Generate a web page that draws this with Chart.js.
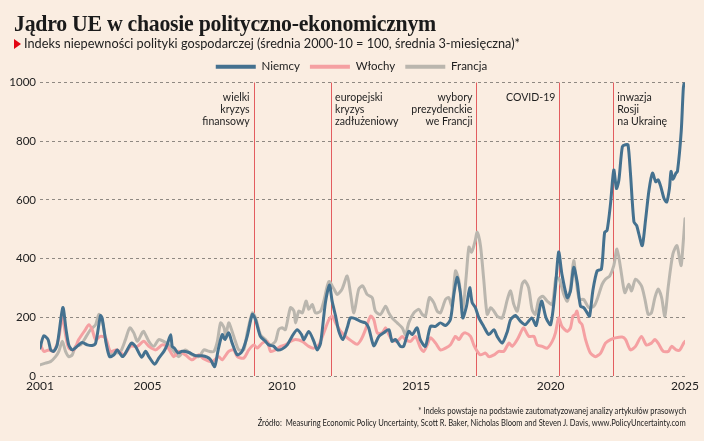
<!DOCTYPE html>
<html><head><meta charset="utf-8">
<script src="https://cdn.jsdelivr.net/npm/chart.js@4.4.1/dist/chart.umd.min.js"></script>
<style>
html,body{margin:0;padding:0;background:#faede1;}
#wrap{position:relative;width:704px;height:441px;overflow:hidden;background:#faede1;}
#c{position:absolute;left:0;top:0;}
.t{position:absolute;white-space:nowrap;color:#1a1a1a;}
#title{left:14px;top:11px;font:bold 24px/24px "Liberation Serif",serif;letter-spacing:-0.3px;transform-origin:0 0;}
#sub{left:24px;top:36px;font:14px/14px Lato,sans-serif;transform-origin:0 0;color:#222;}
#tri{position:absolute;left:14px;top:39px;width:0;height:0;border-left:7px solid #e30613;border-top:5px solid transparent;border-bottom:5px solid transparent;}
#f1{right:18px;top:405px;font:10px/10px Lato,sans-serif;transform-origin:100% 0;color:#222;}
#f2{right:18px;top:417px;font:10px/10px Lato,sans-serif;transform-origin:100% 0;color:#222;}
</style></head>
<body><div id="wrap">
<canvas id="c" width="704" height="441"></canvas>
<div class="t" id="title">Jądro UE w chaosie polityczno-ekonomicznym</div>
<div id="tri"></div>
<div class="t" id="sub">Indeks niepewności polityki gospodarczej (średnia 2000-10 = 100, średnia 3-miesięczna)*</div>
<div class="t" id="f1">* Indeks powstaje na podstawie zautomatyzowanej analizy artykułów prasowych</div>
<div class="t" id="f2">Źródło:&nbsp; Measuring Economic Policy Uncertainty, Scott R. Baker, Nicholas Bloom and Steven J. Davis, www.PolicyUncertainty.com</div>
</div>
<script>
// ---- data ----
const seriesNames = ["Niemcy", "Włochy", "Francja"];
const xTicks = [2001, 2005, 2010, 2015, 2020, 2025];
const yTicks = [0, 200, 400, 600, 800, 1000];

const deX = [2001.00,2001.14,2001.30,2001.40,2001.51,2001.64,2001.85,2001.97,2002.07,2002.20,2002.38,2002.57,2002.76,2002.94,2003.07,2003.25,2003.31,2003.46,2003.59,2003.75,2003.87,2004.08,2004.40,2004.55,2004.78,2004.93,2005.05,2005.27,2005.42,2005.61,2005.73,2005.86,2005.92,2006.00,2006.14,2006.29,2006.54,2006.79,2007.03,2007.22,2007.35,2007.50,2007.63,2007.78,2007.88,2008.02,2008.15,2008.34,2008.52,2008.71,2008.90,2009.02,2009.20,2009.39,2009.51,2009.70,2009.83,2010.01,2010.20,2010.38,2010.57,2010.73,2010.82,2011.00,2011.19,2011.31,2011.44,2011.62,2011.77,2011.87,2012.00,2012.12,2012.27,2012.43,2012.55,2012.74,2012.93,2013.11,2013.23,2013.42,2013.61,2013.79,2013.98,2014.10,2014.23,2014.41,2014.53,2014.72,2014.85,2015.03,2015.15,2015.34,2015.53,2015.72,2015.90,2016.09,2016.27,2016.39,2016.52,2016.64,2016.73,2016.87,2016.99,2017.08,2017.20,2017.33,2017.51,2017.70,2017.89,2018.01,2018.20,2018.39,2018.51,2018.69,2018.88,2019.06,2019.30,2019.46,2019.66,2019.83,2020.00,2020.16,2020.30,2020.42,2020.62,2020.74,2020.86,2020.99,2021.11,2021.23,2021.36,2021.45,2021.57,2021.73,2021.89,2022.01,2022.10,2022.23,2022.35,2022.45,2022.54,2022.67,2022.79,2022.88,2022.97,2023.10,2023.20,2023.28,2023.41,2023.53,2023.66,2023.79,2023.91,2024.00,2024.10,2024.22,2024.32,2024.42,2024.48,2024.55,2024.66,2024.72,2024.86,2024.94,2025.00];
const deY = [95,137,124,89,84,106,233,158,106,89,101,114,106,104,112,206,198,112,66,72,89,66,112,101,64,84,66,40,61,84,106,141,101,95,78,84,80,69,69,64,55,32,89,141,124,147,112,72,84,135,210,192,135,118,106,101,89,92,106,135,158,141,124,152,118,89,112,250,310,255,204,152,124,164,198,195,186,181,164,103,135,147,158,118,124,101,101,152,141,164,124,101,169,169,181,172,192,272,336,284,198,238,301,250,233,198,169,141,158,135,112,152,192,206,186,175,198,172,255,198,175,284,422,347,267,290,370,319,238,233,215,204,290,358,364,490,496,588,702,639,668,782,788,788,691,525,513,485,444,530,633,691,662,668,645,605,593,639,697,670,691,697,834,983,1010];

const itX = [2001.00,2001.14,2001.33,2001.51,2001.70,2001.83,2001.95,2002.07,2002.26,2002.44,2002.69,2002.82,2002.94,2003.07,2003.25,2003.44,2003.62,2003.87,2004.12,2004.37,2004.62,2004.86,2005.05,2005.30,2005.55,2005.73,2005.98,2006.16,2006.41,2006.66,2006.91,2007.10,2007.40,2007.65,2007.78,2008.02,2008.21,2008.34,2008.58,2008.77,2008.96,2009.08,2009.27,2009.45,2009.58,2009.76,2009.95,2010.13,2010.32,2010.51,2010.76,2011.00,2011.19,2011.37,2011.56,2011.75,2011.87,2012.00,2012.19,2012.37,2012.61,2012.80,2012.95,2013.11,2013.30,2013.42,2013.55,2013.73,2013.86,2013.98,2014.10,2014.29,2014.48,2014.60,2014.79,2014.97,2015.16,2015.28,2015.41,2015.53,2015.72,2015.90,2016.09,2016.27,2016.46,2016.59,2016.71,2016.83,2017.02,2017.14,2017.27,2017.39,2017.58,2017.70,2017.89,2018.07,2018.26,2018.45,2018.57,2018.76,2018.94,2019.00,2019.19,2019.38,2019.50,2019.69,2019.87,2020.06,2020.18,2020.30,2020.42,2020.62,2020.74,2020.83,2020.92,2020.98,2021.07,2021.17,2021.30,2021.48,2021.67,2021.86,2022.04,2022.23,2022.41,2022.66,2022.79,2022.97,2023.16,2023.38,2023.56,2023.75,2023.88,2024.00,2024.19,2024.38,2024.50,2024.67,2024.81,2024.95,2025.00];
const itY = [112,84,89,84,130,204,141,95,89,124,158,175,158,124,135,130,84,89,72,101,101,118,101,89,106,101,66,84,72,55,72,58,49,66,55,84,89,66,61,89,106,95,112,118,84,89,101,106,118,124,118,101,95,106,147,192,204,181,152,135,118,108,124,158,204,192,147,147,164,141,124,118,135,124,118,135,95,84,106,130,112,89,95,106,135,124,141,147,135,106,84,72,78,66,72,84,84,112,101,124,158,164,135,135,106,101,95,118,147,198,169,152,164,204,210,221,186,175,124,78,66,78,112,124,130,133,124,89,101,135,106,112,124,112,84,84,101,89,89,112,118];

const frX = [2001.00,2001.20,2001.39,2001.58,2001.70,2001.83,2001.95,2002.07,2002.20,2002.32,2002.51,2002.69,2002.88,2003.07,2003.19,2003.31,2003.44,2003.62,2003.81,2004.00,2004.18,2004.34,2004.49,2004.62,2004.80,2004.86,2005.05,2005.23,2005.42,2005.60,2005.79,2005.98,2006.16,2006.41,2006.66,2006.91,2007.10,2007.29,2007.47,2007.60,2007.72,2007.85,2007.91,2008.02,2008.15,2008.27,2008.40,2008.58,2008.71,2008.90,2009.02,2009.20,2009.39,2009.58,2009.76,2009.88,2010.01,2010.13,2010.32,2010.45,2010.51,2010.63,2010.76,2010.90,2011.00,2011.13,2011.25,2011.44,2011.56,2011.75,2011.94,2012.06,2012.24,2012.43,2012.55,2012.68,2012.86,2013.01,2013.17,2013.36,2013.48,2013.67,2013.86,2013.98,2014.10,2014.29,2014.48,2014.60,2014.72,2014.91,2015.10,2015.22,2015.34,2015.49,2015.65,2015.78,2015.90,2016.09,2016.21,2016.33,2016.46,2016.59,2016.73,2016.86,2016.96,2017.06,2017.18,2017.27,2017.39,2017.51,2017.64,2017.77,2017.89,2018.01,2018.20,2018.39,2018.51,2018.63,2018.76,2018.94,2019.04,2019.18,2019.31,2019.43,2019.56,2019.71,2019.87,2020.06,2020.20,2020.32,2020.49,2020.62,2020.74,2020.86,2020.96,2021.07,2021.23,2021.42,2021.61,2021.73,2021.92,2022.04,2022.20,2022.35,2022.47,2022.60,2022.76,2022.91,2023.01,2023.16,2023.38,2023.51,2023.63,2023.75,2023.88,2024.00,2024.13,2024.25,2024.38,2024.55,2024.70,2024.85,2024.92,2025.00];
const frY = [38,44,49,66,84,118,84,66,72,101,106,130,158,175,210,192,124,78,78,84,124,164,147,118,147,152,118,101,124,118,106,84,66,89,72,66,89,84,84,118,181,164,135,181,152,118,89,89,147,215,198,141,124,106,118,158,164,158,233,221,181,221,215,255,227,244,215,221,255,322,296,278,296,341,284,215,296,307,278,267,221,210,238,215,198,181,164,141,181,215,227,210,204,267,250,221,215,261,267,238,358,324,227,341,439,422,456,490,444,330,210,233,221,204,198,261,290,244,221,313,324,301,227,210,261,272,255,244,336,330,278,255,301,393,319,261,261,233,238,261,313,330,341,376,433,370,284,313,290,330,307,261,210,215,267,296,267,204,307,416,444,376,439,536];

const eventX = [2008.95, 2011.83, 2017.24, 2020.33, 2022.33];
const eventLabels = [["wielki","kryzys","finansowy"],["europejski","kryzys","zadłużeniowy"],["wybory","prezydenckie","we Francji"],["COVID-19"],["inwazja","Rosji","na Ukrainę"]];
const eventSide = ["left","right","left","left","right"];

// ---- styles ----
const colors = ["#44718f", "#f5a0a2", "#bab6ae"];
const pts = (xs, ys) => xs.map((x, i) => ({x: x, y: ys[i]}));

const fitText = (id, w) => {
  const el = document.getElementById(id);
  const r = el.getBoundingClientRect().width;
  el.style.transform = 'scaleX(' + (w / r) + ')';
};

const legendShift = {
  id: 'legendShift',
  afterLayout(chart) {
    if (chart.legend) { chart.legend.left += 9; chart.legend.right += 9; }
  }
};

const eventsPlugin = {
  id: 'events',
  beforeDatasetsDraw(chart) {
    const {ctx, chartArea, scales} = chart;
    ctx.save();
    ctx.strokeStyle = '#e35d5f';
    ctx.lineWidth = 1;
    eventX.forEach(v => {
      const x = Math.round(scales.x.getPixelForValue(v)) + 0.5;
      ctx.beginPath();
      ctx.moveTo(x, chartArea.top);
      ctx.lineTo(x, chartArea.bottom);
      ctx.stroke();
    });
    ctx.fillStyle = '#1e1e1e';
    ctx.font = '12px Lato, sans-serif';
    ctx.textBaseline = 'alphabetic';
    eventX.forEach((v, i) => {
      const x = scales.x.getPixelForValue(v);
      const left = eventSide[i] === 'left';
      eventLabels[i].forEach((t, j) => {
        ctx.save();
        ctx.translate(left ? x - 4 : x + 4, chartArea.top + 18 + j * 12);
        ctx.scale(0.88, 1);
        ctx.textAlign = left ? 'right' : 'left';
        ctx.fillText(t, 0, 0);
        ctx.restore();
      });
    });
    ctx.restore();
  }
};

const ds = [pts(deX, deY), pts(itX, itY), pts(frX, frY)].map((d, i) => ({
  label: seriesNames[i],
  data: d,
  borderColor: colors[i],
  backgroundColor: colors[i],
  borderWidth: 3,
  pointRadius: 0,
  tension: 0.25,
  borderJoinStyle: 'round',
  borderCapStyle: 'round'
}));

new Chart(document.getElementById('c'), {
  type: 'line',
  data: { datasets: ds },
  options: {
    responsive: false,
    animation: false,
    layout: { padding: { top: 51, right: 19, left: 0, bottom: 0 } },
    plugins: {
      legend: {
        display: true,
        position: 'top',
        labels: {
          boxWidth: 40,
          boxHeight: 4,
          padding: 10,
          color: '#222',
          font: { family: 'Lato', size: 11.5 },
          generateLabels(chart) {
            return chart.data.datasets.map((d, i) => ({
              text: d.label, fillStyle: colors[i], strokeStyle: colors[i], lineWidth: 0,
              fontColor: '#222', datasetIndex: i, hidden: false
            }));
          }
        }
      },
      tooltip: { enabled: false }
    },
    scales: {
      x: {
        type: 'linear',
        min: 2001, max: 2025,
        afterBuildTicks(scale) { scale.ticks = xTicks.map(v => ({ value: v })); },
        afterFit(scale) { scale.height = 65; },
        grid: { display: false, drawTicks: false },
        border: { display: false },
        ticks: {
          autoSkip: false, maxRotation: 0, padding: 3,
          color: '#222', font: { family: 'Lato', size: 12 },
          callback: v => String(v)
        }
      },
      y: {
        min: 0, max: 1000,
        afterBuildTicks(scale) { scale.ticks = yTicks.map(v => ({ value: v })); },
        afterFit(scale) { scale.width = 40; },
        grid: { color: '#8f8982', lineWidth: 1, drawTicks: false, tickLength: 0 },
        border: { display: false, dash: [3, 3] },
        ticks: {
          padding: 4, color: '#222', font: { family: 'Lato', size: 11.5 },
          callback: v => String(v)
        }
      }
    }
  },
  plugins: [eventsPlugin, legendShift]
});

fitText('title', 422);
fitText('sub', 496);
fitText('f1', 268);
fitText('f2', 428);
</script>
</body></html>
